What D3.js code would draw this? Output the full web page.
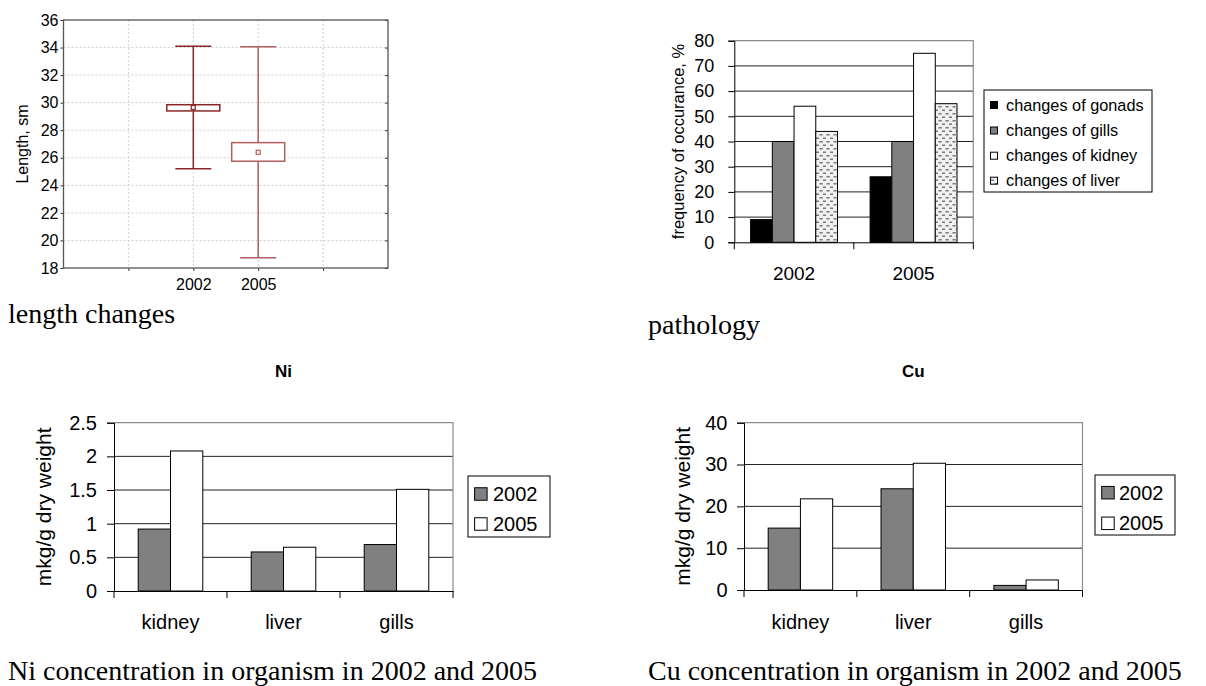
<!DOCTYPE html>
<html><head><meta charset="utf-8">
<script src="https://cdn.jsdelivr.net/npm/d3@7"></script>
<style>
body{margin:0;background:#fff}
svg{display:block}
text{font-family:"Liberation Sans",Arial,sans-serif;fill:#000}
.cap{font-family:"Liberation Serif","Times New Roman",serif}
</style>
</head><body>
<svg id="c" width="1206" height="686"></svg>
<script>
// ---------- data ----------
const boxCategories = ["2002", "2005"];
const boxWhiskerLow = [25.2, 18.75];
const boxWhiskerHigh = [34.1, 34.05];
const boxQ1 = [29.4, 25.75];
const boxQ3 = [29.85, 27.1];
const boxCenter = [29.65, 26.4];
const boxYTicks = [18, 20, 22, 24, 26, 28, 30, 32, 34, 36];

const pathYears = ["2002", "2005"];
const pathSeries = ["changes of gonads", "changes of gills", "changes of kidney", "changes of liver"];
const pathGonads = [9, 26];
const pathGills = [40, 40];
const pathKidney = [54, 75];
const pathLiver = [44, 55];
const pathYTicks = [0, 10, 20, 30, 40, 50, 60, 70, 80];

const organs = ["kidney", "liver", "gills"];
const years = ["2002", "2005"];
const ni2002 = [0.92, 0.58, 0.69];
const ni2005 = [2.08, 0.65, 1.51];
const niYTicks = [0, 0.5, 1, 1.5, 2, 2.5];
const cu2002 = [14.8, 24.2, 1.1];
const cu2005 = [21.8, 30.3, 2.4];
const cuYTicks = [0, 10, 20, 30, 40];

// ---------- setup ----------
const svg = d3.select("#c");
const defs = svg.append("defs");
const pat = defs.append("pattern").attr("id", "dash").attr("patternUnits", "userSpaceOnUse")
  .attr("width", 7).attr("height", 7);
pat.append("rect").attr("width", 7).attr("height", 7).attr("fill", "#f0f0f0");
pat.append("rect").attr("x", 0.5).attr("y", 1).attr("width", 3.2).attr("height", 1.5).attr("fill", "#7a7a7a");
pat.append("rect").attr("x", 4).attr("y", 4.5).attr("width", 3.2).attr("height", 1.5).attr("fill", "#7a7a7a");

// ---------- box plot ----------
(function () {
  const L = 63.5, R = 388, T = 20, B = 268;
  const g = svg.append("g");
  const y = d3.scaleLinear().domain([18, 36]).range([B, T]);
  const x = d3.scaleLinear().domain([-2, 3]).range([L, R]);
  const colors = ["#8c2626", "#b05e5e"];
  // grid
  g.append("g").selectAll("line").data(boxYTicks.slice(1, -1)).join("line")
    .attr("x1", L).attr("x2", R).attr("y1", d => y(d)).attr("y2", d => y(d))
    .attr("stroke", "#cfcfcf").attr("stroke-dasharray", "2,2");
  g.append("g").selectAll("line").data([-1, 0, 1, 2]).join("line")
    .attr("x1", d => x(d)).attr("x2", d => x(d)).attr("y1", T).attr("y2", B)
    .attr("stroke", "#cfcfcf").attr("stroke-dasharray", "2,2");
  // axes
  const ya = g.append("g").attr("transform", `translate(${L},0)`)
    .call(d3.axisLeft(y).tickValues(boxYTicks).tickSize(3).tickPadding(2).tickFormat(d3.format("d")));
  ya.select(".domain").remove();
  ya.selectAll("line").attr("stroke", "#333");
  ya.selectAll("text").style("font-size", "16px");
  const yr = g.append("g").attr("transform", `translate(${R},0)`)
    .call(d3.axisLeft(y).tickValues(boxYTicks).tickSize(3).tickFormat(""));
  yr.select(".domain").remove();
  yr.selectAll("line").attr("stroke", "#333");
  const xa = g.append("g").attr("transform", `translate(0,${B})`)
    .call(d3.axisBottom(x).tickValues([-1, 0, 1, 2]).tickSize(3)
      .tickFormat(d => (d >= 0 && d < boxCategories.length) ? boxCategories[d] : ""));
  xa.select(".domain").remove();
  xa.selectAll("line").attr("stroke", "#333");
  xa.selectAll("text").style("font-size", "16px").attr("dy", null).attr("y", 22);
  g.append("rect").attr("x", L).attr("y", T).attr("width", R - L).attr("height", B - T)
    .attr("fill", "none").attr("stroke", "#555").attr("stroke-width", 1.3);
  g.append("text").attr("transform", `translate(28,${(T + B) / 2}) rotate(-90)`)
    .attr("text-anchor", "middle").style("font-size", "16px").text("Length, sm");
  // boxes
  boxCategories.forEach((c, i) => {
    const cx = x(i), col = colors[i];
    const gg = g.append("g").attr("stroke", col).attr("stroke-width", 1.5).attr("fill", "none");
    gg.append("line").attr("x1", cx).attr("x2", cx).attr("y1", y(boxWhiskerHigh[i])).attr("y2", y(boxQ3[i]));
    gg.append("line").attr("x1", cx).attr("x2", cx).attr("y1", y(boxQ1[i])).attr("y2", y(boxWhiskerLow[i]));
    gg.append("line").attr("x1", cx - 18).attr("x2", cx + 18).attr("y1", y(boxWhiskerHigh[i])).attr("y2", y(boxWhiskerHigh[i]));
    gg.append("line").attr("x1", cx - 18).attr("x2", cx + 18).attr("y1", y(boxWhiskerLow[i])).attr("y2", y(boxWhiskerLow[i]));
    gg.append("rect").attr("x", cx - 26.5).attr("width", 53).attr("y", y(boxQ3[i]))
      .attr("height", y(boxQ1[i]) - y(boxQ3[i])).attr("fill", "#fff");
    gg.append("rect").attr("x", cx - 2).attr("width", 4).attr("y", y(boxCenter[i]) - 2).attr("height", 4)
      .attr("fill", "#fff").attr("stroke-width", 1.2);
  });
  svg.append("text").attr("class", "cap").attr("x", 8).attr("y", 323).style("font-size", "28px").text("length changes");
})();

// ---------- generic grouped bar ----------
function barChart(o) {
  const g = svg.append("g");
  const y = d3.scaleLinear().domain([0, o.yMax]).range([o.B, o.T]);
  const x = d3.scaleBand().domain(o.cats).range([o.L, o.R]).paddingInner(0).paddingOuter(0);
  const n = o.series.length;
  const bw = x.bandwidth() / (n + 1.5);
  const xs = d3.scaleBand().domain(d3.range(n)).range([bw * 0.75, x.bandwidth() - bw * 0.75]);
  // grid
  g.append("g").selectAll("line").data(o.ticks.filter(t => t > 0 && t < o.yMax)).join("line")
    .attr("x1", o.L).attr("x2", o.R).attr("y1", d => y(d)).attr("y2", d => y(d))
    .attr("stroke", "#222").attr("stroke-width", 1);
  // plot border top/right
  g.append("path").attr("d", `M${o.L},${o.T}H${o.R}V${o.B}`).attr("fill", "none")
    .attr("stroke", "#8c8c8c").attr("stroke-width", 1.2);
  // bars
  o.series.forEach((s, si) => {
    g.append("g").selectAll("rect").data(o.cats).join("rect")
      .attr("x", (c) => x(c) + xs(si)).attr("width", xs.bandwidth())
      .attr("y", (c, ci) => y(s.values[ci])).attr("height", (c, ci) => y(0) - y(s.values[ci]))
      .attr("fill", s.fill).attr("stroke", "#000").attr("stroke-width", 1);
  });
  // y axis
  const ya = g.append("g").attr("transform", `translate(${o.L},0)`)
    .call(d3.axisLeft(y).tickValues(o.ticks).tickSize(o.tickLen).tickPadding(o.tickPad).tickFormat(o.fmt));
  ya.select(".domain").attr("stroke", "#000");
  ya.selectAll("line").attr("stroke", "#000");
  ya.selectAll("text").style("font-size", o.tickFont + "px");
  // x axis
  const xa = g.append("g").attr("transform", `translate(0,${o.B})`)
    .call(d3.axisBottom(x).tickSize(0).tickPadding(0));
  xa.select(".domain").attr("stroke", "#000");
  xa.selectAll("text").style("font-size", o.catFont + "px").attr("dy", null).attr("y", o.catBase - o.B);
  g.append("g").selectAll("line").data(o.cats.map(c => x(c)).concat([o.R])).join("line")
    .attr("x1", d => d).attr("x2", d => d).attr("y1", o.B).attr("y2", o.B + 7).attr("stroke", "#000");
  // y label
  g.append("text").attr("transform", `translate(${o.labX},${(o.T + o.B) / 2}) rotate(-90)`)
    .attr("text-anchor", "middle").style("font-size", o.labFont + "px").text(o.label);
  // legend
  const lg = o.legend;
  g.append("rect").attr("x", lg.x).attr("y", lg.y).attr("width", lg.w).attr("height", lg.h)
    .attr("fill", "#fff").attr("stroke", "#000").attr("stroke-width", 1);
  o.series.forEach((s, si) => {
    const cy = lg.rowY[si];
    g.append("rect").attr("x", lg.sx).attr("y", cy - lg.sw / 2).attr("width", lg.sw).attr("height", lg.sw)
      .attr("fill", s.fill).attr("stroke", "#000").attr("stroke-width", 1);
    g.append("text").attr("x", lg.tx).attr("y", cy).attr("dy", "0.35em")
      .style("font-size", lg.font + "px").text(s.name);
  });
  if (o.title) {
    g.append("text").attr("x", (o.L + o.R) / 2).attr("y", o.titleY).attr("text-anchor", "middle")
      .style("font-size", "17px").style("font-weight", "bold").text(o.title);
  }
}

barChart({
  L: 734.3, R: 973.3, T: 40.7, B: 242.3, yMax: 80, ticks: pathYTicks, fmt: d3.format("d"),
  tickLen: 6, tickPad: 14, tickFont: 18, cats: pathYears, catFont: 19, catBase: 280,
  series: [
    { name: pathSeries[0], values: pathGonads, fill: "#000" },
    { name: pathSeries[1], values: pathGills, fill: "#808080" },
    { name: pathSeries[2], values: pathKidney, fill: "#fff" },
    { name: pathSeries[3], values: pathLiver, fill: "url(#dash)" }
  ],
  label: "frequency of occurance, %", labX: 684, labFont: 16.5,
  legend: { x: 984, y: 90, w: 168, h: 102, rowY: [105, 130.5, 155.7, 180.7], sx: 990.5, sw: 7, tx: 1006, font: 16.3 }
});

barChart({
  L: 114, R: 453, T: 422.7, B: 591, yMax: 2.5, ticks: niYTicks, fmt: d => String(d),
  tickLen: 7, tickPad: 10, tickFont: 20, cats: organs, catFont: 20, catBase: 629,
  series: [
    { name: years[0], values: ni2002, fill: "#808080" },
    { name: years[1], values: ni2005, fill: "#fff" }
  ],
  label: "mkg/g dry weight", labX: 51, labFont: 21,
  legend: { x: 468, y: 476, w: 82, h: 61, rowY: [494, 524], sx: 474.6, sw: 12.5, tx: 493, font: 20 },
  title: "Ni", titleY: 377
});

barChart({
  L: 744, R: 1082.5, T: 422.7, B: 590, yMax: 40, ticks: cuYTicks, fmt: d3.format("d"),
  tickLen: 7, tickPad: 9.5, tickFont: 20, cats: organs, catFont: 20, catBase: 629,
  series: [
    { name: years[0], values: cu2002, fill: "#808080" },
    { name: years[1], values: cu2005, fill: "#fff" }
  ],
  label: "mkg/g dry weight", labX: 690, labFont: 21,
  legend: { x: 1095, y: 475, w: 80, h: 60, rowY: [492.7, 523.3], sx: 1101.7, sw: 12.5, tx: 1119, font: 20 },
  title: "Cu", titleY: 377
});

svg.append("text").attr("class", "cap").attr("x", 648).attr("y", 334).style("font-size", "28px").text("pathology");
svg.append("text").attr("class", "cap").attr("x", 8).attr("y", 680).style("font-size", "28px").text("Ni concentration in organism in 2002 and 2005");
svg.append("text").attr("class", "cap").attr("x", 648).attr("y", 680).style("font-size", "28px").text("Cu concentration in organism in 2002 and 2005");
</script>
</body></html>
